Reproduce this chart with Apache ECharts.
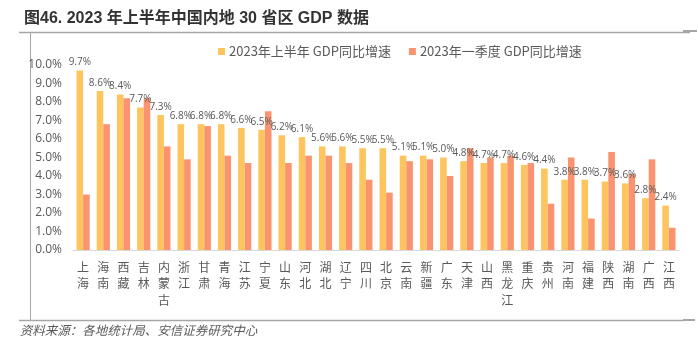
<!DOCTYPE html>
<html><head><meta charset="utf-8">
<script src="https://cdn.jsdelivr.net/npm/echarts@6/dist/echarts.min.js"></script>
<style>html,body{margin:0;padding:0;background:#fff}#c{width:699px;height:345px}</style>
</head><body><div id="c"></div>
<script>
const categories = ['上海','海南','西藏','吉林','内蒙古','浙江','甘肃','青海','江苏','宁夏','山东','河北','湖北','辽宁','四川','北京','云南','新疆','广东','天津','山西','黑龙江','重庆','贵州','河南','福建','陕西','湖南','广西','江西'];
const h1Values = [9.7,8.6,8.4,7.7,7.3,6.8,6.8,6.8,6.6,6.5,6.2,6.1,5.6,5.6,5.5,5.5,5.1,5.1,5.0,4.8,4.7,4.7,4.6,4.4,3.8,3.8,3.7,3.6,2.8,2.4];
const q1Values = [3.0,6.8,8.2,8.2,5.6,4.9,6.7,5.1,4.7,7.5,4.7,5.1,5.1,4.7,3.8,3.1,4.8,4.9,4.0,5.5,5.0,5.1,4.7,2.5,5.0,1.7,5.3,4.1,4.9,1.2];
const seriesNames = ['2023年上半年 GDP同比增速','2023年一季度 GDP同比增速'];
const titleText = '图46. 2023 年上半年中国内地 30 省区 GDP 数据';
const sourceText = '资料来源：各地统计局、安信证券研究中心';

const chart = echarts.init(document.getElementById('c'), null, {renderer:'canvas'});
const fontCN = '"Noto Sans CJK SC","Open Sans",sans-serif';
chart.setOption({
  animation:false,
  title:{text:titleText,left:19,top:6,textStyle:{fontSize:16,fontWeight:'bold',color:'#333',fontFamily:'"Liberation Sans","Noto Sans CJK SC",sans-serif'}},
  legend:{data:seriesNames,left:213,top:40,itemWidth:7,itemHeight:7,itemGap:18,icon:'rect',
    textStyle:{fontSize:13,color:'#595959',fontFamily:fontCN,padding:[0,0,0,-1]}},
  grid:{left:73,right:20,top:65,bottom:95},
  xAxis:{type:'category',data:categories,
    axisLine:{lineStyle:{color:'#d9d9d9'}},axisTick:{show:false},
    axisLabel:{interval:0,margin:9,fontSize:12,color:'#595959',lineHeight:16.5,fontFamily:fontCN,
      formatter:v=>v.split('').join('\n')}},
  yAxis:{type:'value',min:0,max:10,interval:1,splitLine:{show:false},axisLine:{show:false},axisTick:{show:false},
    axisLabel:{fontSize:12,color:'#595959',margin:11,fontFamily:'"Open Sans",sans-serif',formatter:v=>v.toFixed(1)+'%'}},
  series:[
    {name:seriesNames[0],type:'bar',data:h1Values,barWidth:6.6,barGap:'0%',
      itemStyle:{color:'#FEC55E'},
      label:{show:true,position:'top',distance:3,fontSize:10,color:'#595959',fontFamily:'"Open Sans",sans-serif',formatter:p=>p.value.toFixed(1)+'%'}},
    {name:seriesNames[1],type:'bar',data:q1Values,barWidth:6.6,barGap:'0%',
      itemStyle:{color:'#FA9470'}}
  ],
  graphic:[
    {type:'line',shape:{x1:19,y1:32.5,x2:690,y2:32.5},style:{stroke:'#a6a6a6',lineWidth:1.5}},
    {type:'line',shape:{x1:683,y1:31,x2:697,y2:31},style:{stroke:'#a6a6a6',lineWidth:2}},
    {type:'line',shape:{x1:30.5,y1:32,x2:30.5,y2:320},style:{stroke:'#a6a6a6',lineWidth:1}},
    {type:'line',shape:{x1:19,y1:320.5,x2:684,y2:320.5},style:{stroke:'#a6a6a6',lineWidth:1.5}},
    {type:'line',shape:{x1:683,y1:320,x2:695,y2:320},style:{stroke:'#a6a6a6',lineWidth:2}},
    {type:'group',x:21,y:330,children:[
      {type:'text',x:0,y:0,skewX:-0.25,style:{text:sourceText,fill:'#595959',textVerticalAlign:'middle',verticalAlign:'middle',font:'12.5px "Noto Sans CJK SC", sans-serif'}}
    ]}
  ]
});
</script></body></html>
